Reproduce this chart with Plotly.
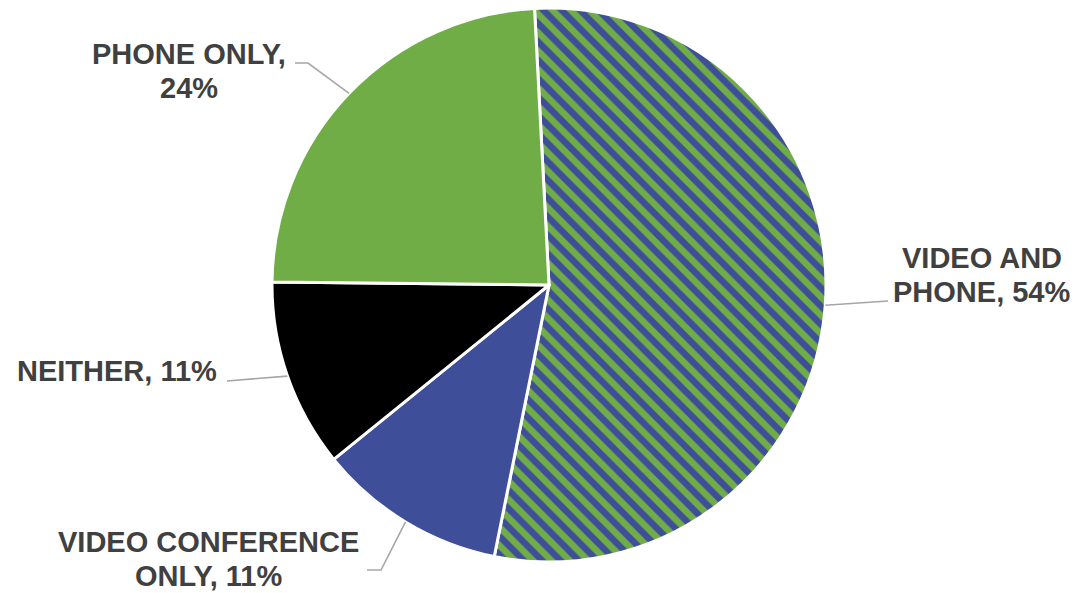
import math
import plotly.graph_objects as go

# Survey shares, in drawing order (clockwise from the top)
categories = ["VIDEO AND PHONE", "VIDEO CONFERENCE ONLY", "NEITHER", "PHONE ONLY"]
shares = [54, 11, 11, 24]
label_templates = [
    ["VIDEO AND", "PHONE, {}%"],
    ["VIDEO CONFERENCE", "ONLY, {}%"],
    ["NEITHER, {}%"],
    ["PHONE ONLY,", "{}%"],
]

GREEN = "#70AD47"
BLUE = "#3E4E98"
BLACK = "#000000"
TEXT = "#404040"
LEADER = "#A6A6A6"

slice_colors = [GREEN, BLUE, BLACK, GREEN]
hatch_shapes = ["\\", "", "", ""]
hatch_fg = [BLUE, BLUE, BLACK, GREEN]

W, H = 1079, 593
CX, CY, R = 549, 285, 277       # pie centre and radius in pixels
ROTATION = -3                   # first slice starts slightly left of 12 o'clock
LINE_GAP = 34                   # pixel distance between label lines
FONT_SIZE = 29

# Label placement (pixel centre x, centre y of first line) and leader waypoints
label_pos = [(982, 258), (208, 542), (117, 371), (189, 54)]
leader_start = [
    [(888, 301)],
    [(367, 570), (381, 570)],
    [(227, 381)],
    [(295, 63), (308, 63)],
]


def px(x):
    return x / W


def py(y):
    return 1 - y / H


fig = go.Figure(
    go.Pie(
        labels=categories,
        values=shares,
        sort=False,
        direction="clockwise",
        rotation=ROTATION,
        textinfo="none",
        hoverinfo="label+percent",
        marker=dict(
            colors=slice_colors,
            line=dict(color="white", width=3),
            pattern=dict(
                shape=hatch_shapes,
                fgcolor=hatch_fg,
                bgcolor=slice_colors,
                size=13,
                solidity=0.5,
                fillmode="replace",
            ),
        ),
        domain=dict(x=[px(CX - R), px(CX + R)], y=[py(CY + R), py(CY - R)]),
        showlegend=False,
    )
)

# Outside labels with leader lines to the slice mid-angle on the rim
total = sum(shares)
cum = 0
annotations = []
shapes = []
for v, lines, (lx, ly), pts in zip(shares, label_templates, label_pos, leader_start):
    mid = math.radians(ROTATION + (cum + v / 2) / total * 360)
    cum += v
    ex = CX + R * math.sin(mid)
    ey = CY - R * math.cos(mid)
    path_pts = pts + [(ex, ey)]
    path = "M " + " L ".join(f"{px(x):.5f},{py(y):.5f}" for x, y in path_pts)
    shapes.append(dict(type="path", xref="paper", yref="paper", path=path,
                       line=dict(color=LEADER, width=1.6)))
    for i, line in enumerate(lines):
        annotations.append(dict(
            x=px(lx), y=py(ly + i * LINE_GAP), xref="paper", yref="paper",
            text="<b>" + line.format(v) + "</b>",
            showarrow=False, xanchor="center", yanchor="middle", align="center",
            font=dict(family="Liberation Sans, Arial, sans-serif", size=FONT_SIZE, color=TEXT),
        ))

fig.update_layout(
    width=W, height=H,
    margin=dict(l=0, r=0, t=0, b=0),
    paper_bgcolor="white",
    plot_bgcolor="white",
    shapes=shapes,
    annotations=annotations,
)

fig.write_html("out.html")
